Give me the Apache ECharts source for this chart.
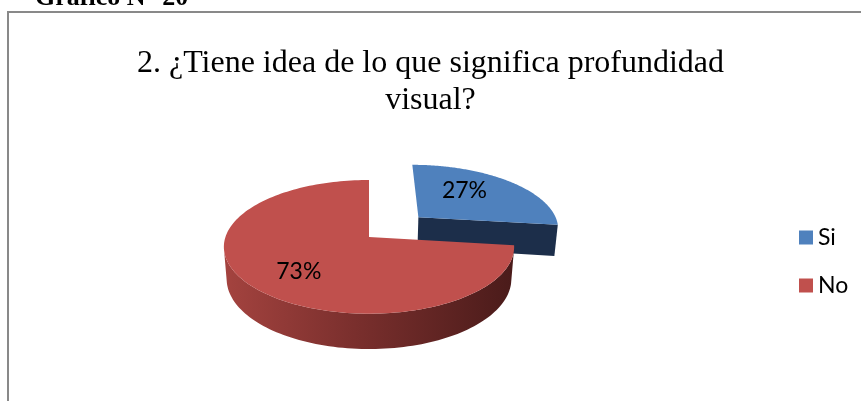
<!DOCTYPE html>
<html>
<head>
<meta charset="utf-8">
<script src="https://cdn.jsdelivr.net/npm/echarts@6/dist/echarts.min.js"></script>
<style>
  html, body { margin: 0; padding: 0; background: #fff; }
  #main { width: 861px; height: 401px; }
</style>
</head>
<body>
<div id="main"></div>
<script>
// data
const categories = ["Si", "No"];
const values = [27, 73];
const titleText = "2. ¿Tiene idea de lo que significa profundidad\nvisual?";
const captionText = "Gráfico N° 20";

// look of the 3d pie
const topColors = ["#4f81bd", "#c0504d"];
const sideColors = [
  [{ offset: 0, color: "#22375a" }, { offset: 1, color: "#1c2e4a" }],
  [{ offset: 0, color: "#a4433f" }, { offset: 0.45, color: "#7a2f2d" }, { offset: 1, color: "#4a1b1a" }],
];
const explode = [0.48, 0];
const labelShift = [[-8, -5], [-4, 8]];
const view = { cx: 369, cy: 237, scale: 870, dist: 6.06, tilt: 27.1 * Math.PI / 180, height: 0.253 };

function project(x, y, z) {
  const se = Math.sin(view.tilt), ce = Math.cos(view.tilt);
  const Y = y * ce - z * se;
  const D = view.dist - y * se - z * ce;
  return [view.cx + view.scale * x / D, view.cy - view.scale * Y / D];
}

function renderSlice(params, api) {
  const i = params.seriesIndex;
  const total = values.reduce((a, b) => a + b, 0);
  const before = values.slice(0, i).reduce((a, b) => a + b, 0);
  const a0 = before / total * 2 * Math.PI;
  const a1 = (before + api.value(0)) / total * 2 * Math.PI;
  const mid = (a0 + a1) / 2;
  const ox = explode[i] * Math.sin(mid), oz = -explode[i] * Math.cos(mid);
  const H = view.height;
  const cam = [0, view.dist * Math.sin(view.tilt), view.dist * Math.cos(view.tilt)];
  const world = (a, r, y) => [ox + r * Math.sin(a), y, oz - r * Math.cos(a)];
  const pt = (a, r, y) => { const w = world(a, r, y); return project(w[0], w[1], w[2]); };
  // cosine between face normal and the direction to the eye
  const facing = (n, p) => {
    const v = [cam[0] - p[0], cam[1] - p[1], cam[2] - p[2]];
    return (n[0] * v[0] + n[1] * v[1] + n[2] * v[2]) / Math.hypot(v[0], v[1], v[2]);
  };
  const children = [];

  // cut faces (skip those seen almost edge on)
  [[a0, -1], [a1, 1]].forEach(([a, sg]) => {
    const n = [sg * Math.cos(a), 0, sg * Math.sin(a)];
    if (facing(n, world(a, 0.5, -H / 2)) > 0.1) {
      children.push({
        type: "polygon",
        shape: { points: [pt(a, 0, 0), pt(a, 1, 0), pt(a, 1, -H), pt(a, 0, -H)] },
        style: { fill: sideColors[i][sideColors[i].length - 1].color },
      });
    }
  });

  // outer wall, only the part facing us
  const steps = 160;
  const vis = [];
  for (let s = 0; s <= steps; s++) {
    const a = a0 + (a1 - a0) * s / steps;
    if (facing([Math.sin(a), 0, -Math.cos(a)], world(a, 1, -H / 2)) > 0) vis.push(a);
  }
  if (vis.length > 1) {
    const up = vis.map((a) => pt(a, 1, 0));
    const down = vis.slice().reverse().map((a) => pt(a, 1, -H));
    children.push({
      type: "polygon",
      shape: { points: up.concat(down) },
      style: {
        fill: { type: "linear", x: 0, y: 0, x2: 1, y2: 0, colorStops: sideColors[i] },
      },
    });
  }

  // top face
  const face = [pt(0, 0, 0)];
  for (let s = 0; s <= steps; s++) face.push(pt(a0 + (a1 - a0) * s / steps, 1, 0));
  children.push({ type: "polygon", shape: { points: face }, style: { fill: topColors[i] } });

  // label
  const lp = pt(mid, 0.58, 0);
  children.push({
    type: "text",
    style: {
      text: Math.round(api.value(0) / total * 100) + "%",
      x: lp[0] + labelShift[i][0], y: lp[1] + labelShift[i][1],
      align: "center", verticalAlign: "middle",
      fontFamily: "Lato", fontSize: 23, fill: "#000",
    },
  });
  return { type: "group", children };
}

const chart = echarts.init(document.getElementById("main"));
const option = {
  animation: false,
  title: {
    text: titleText,
    left: "center",
    top: 45,
    padding: 0,
    textStyle: { fontFamily: "Liberation Serif", fontSize: 32, fontWeight: "normal", color: "#000", lineHeight: 37 },
  },
  legend: {
    data: categories,
    orient: "vertical",
    left: 794,
    top: 221,
    itemWidth: 14,
    itemHeight: 14,
    itemGap: 25,
    icon: "rect",
    selectedMode: false,
    textStyle: { fontFamily: "Lato", fontSize: 23, color: "#000" },
  },
  graphic: [
    {
      type: "rect",
      shape: { x: 8, y: 12, width: 1000, height: 1000 },
      style: { fill: "none", stroke: "#898989", lineWidth: 2 },
      silent: true,
    },
    {
      type: "text",
      x: 35,
      y: -2,
      style: { text: captionText, fontFamily: "Liberation Serif", fontWeight: "bold", fontSize: 26, fill: "#000", verticalAlign: "middle" },
    },
  ],
  series: categories.map((name, i) => ({
    name,
    type: "custom",
    coordinateSystem: "none",
    itemStyle: { color: topColors[i] },
    renderItem: renderSlice,
    data: [[values[i]]],
  })),
};
chart.setOption(option);
</script>
</body>
</html>
